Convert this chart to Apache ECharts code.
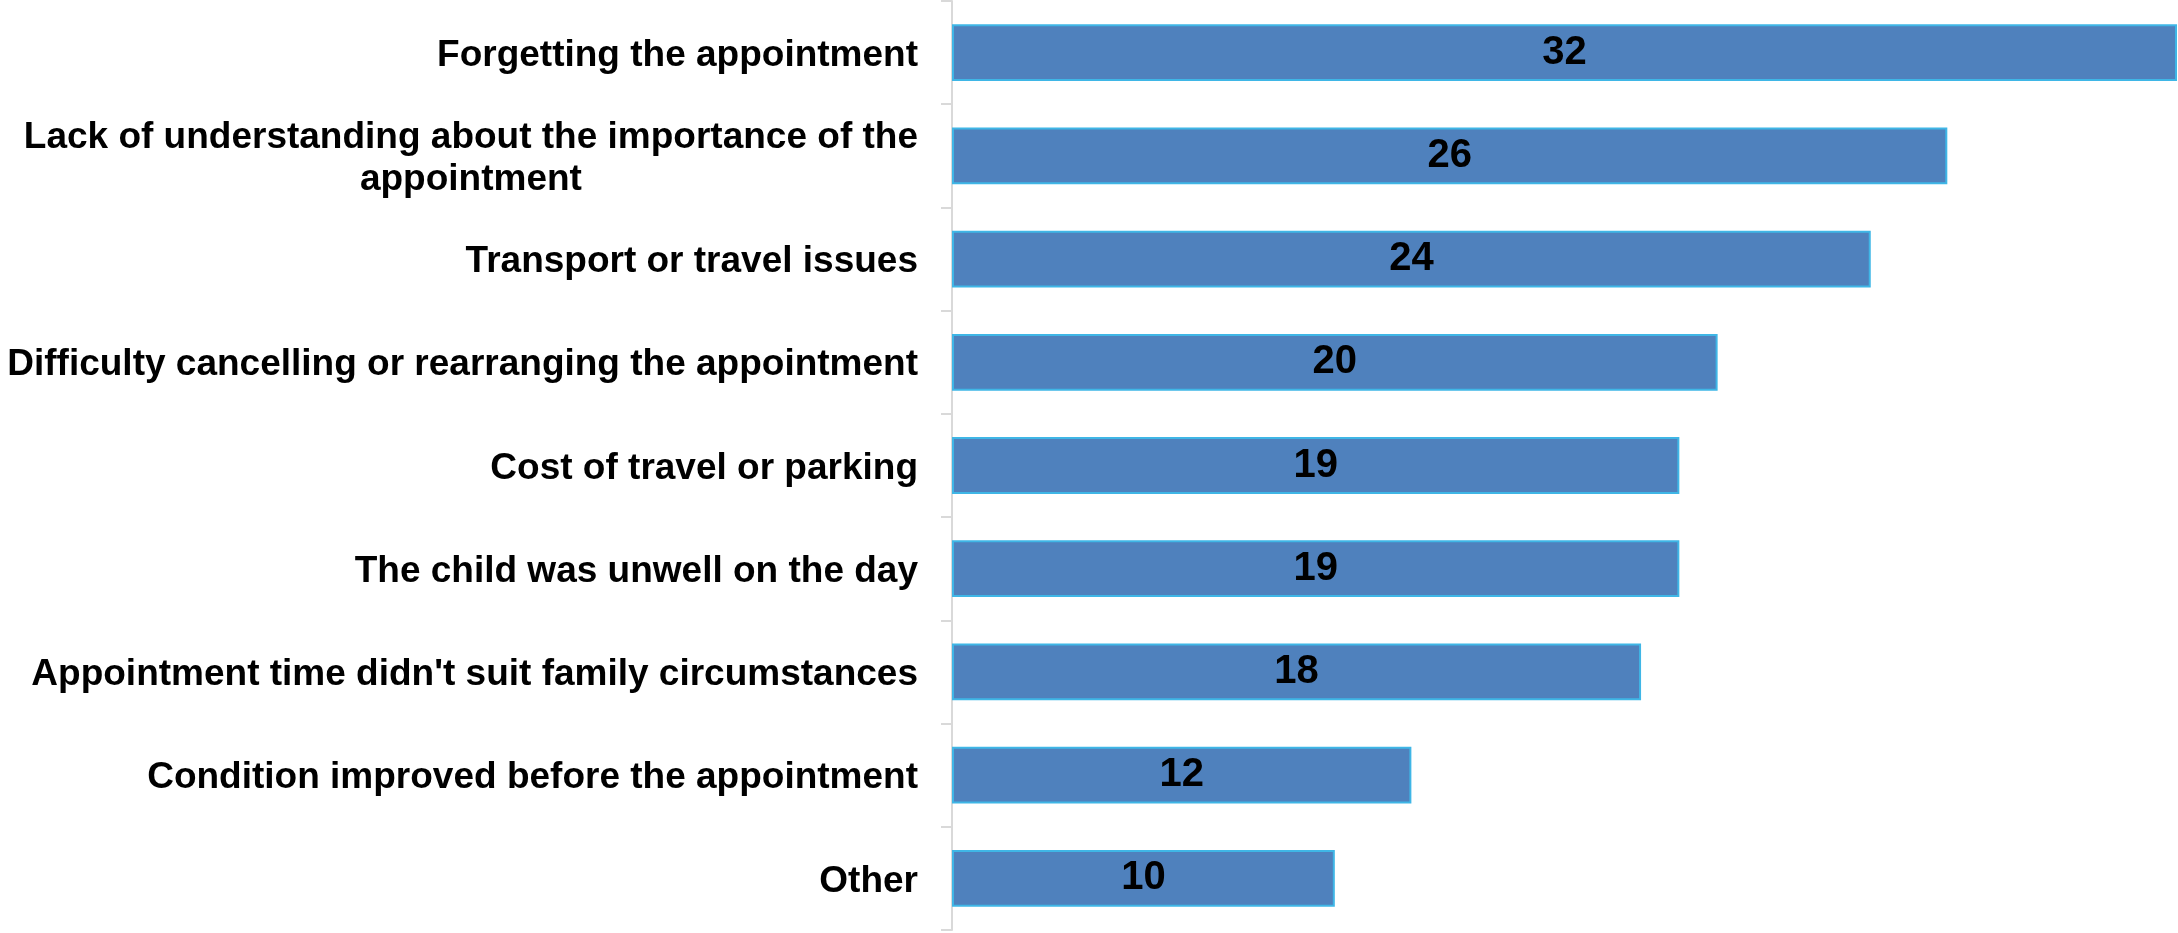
<!DOCTYPE html>
<html>
<head>
<meta charset="utf-8">
<script src="https://cdn.jsdelivr.net/npm/echarts@6/dist/echarts.min.js"></script>
<style>
html,body{margin:0;padding:0;background:#fff;}
#chart{width:2178px;height:933px;}
</style>
</head>
<body>
<div id="chart"></div>
<script>
const categories = [
  "Forgetting the appointment",
  "Lack of understanding about the importance of the\nappointment",
  "Transport or travel issues",
  "Difficulty cancelling or rearranging the appointment",
  "Cost of travel or parking",
  "The child was unwell on the day",
  "Appointment time didn't suit family circumstances",
  "Condition improved before the appointment",
  "Other"
];
const values = [32, 26, 24, 20, 19, 19, 18, 12, 10];

const chart = echarts.init(document.getElementById('chart'));
chart.setOption({
  animation: false,
  backgroundColor: '#ffffff',
  grid: { left: 952, right: 1, top: 1, bottom: 3, containLabel: false },
  xAxis: {
    type: 'value', min: 0, max: 32, show: false
  },
  yAxis: {
    type: 'category',
    data: categories,
    inverse: true,
    axisLine: { show: true, lineStyle: { color: '#d9d9d9', width: 2 } },
    axisTick: { show: true, length: 11, lineStyle: { color: '#d9d9d9', width: 2 } },
    splitLine: { show: false },
    axisLabel: {
      margin: 34,
      padding: [6, 0, 0, 0],
      formatter: v => '{c|' + v.split('\n').join('}\n{c|') + '}',
      rich: {
        c: {
          align: 'center',
          fontFamily: '"Liberation Sans", Arial, sans-serif',
          fontWeight: 'bold',
          fontSize: 37,
          lineHeight: 42,
          color: '#000'
        }
      }
    }
  },
  series: [{
    type: 'bar',
    data: values,
    barWidth: '55%',
    itemStyle: { color: '#4F81BD', borderColor: '#3FB6E6', borderWidth: 2 },
    label: {
      show: true,
      position: 'inside',
      padding: [5, 0, 0, 0],
      color: '#000',
      fontFamily: '"Liberation Sans", Arial, sans-serif',
      fontWeight: 'bold',
      fontSize: 40
    }
  }]
});
</script>
</body>
</html>
